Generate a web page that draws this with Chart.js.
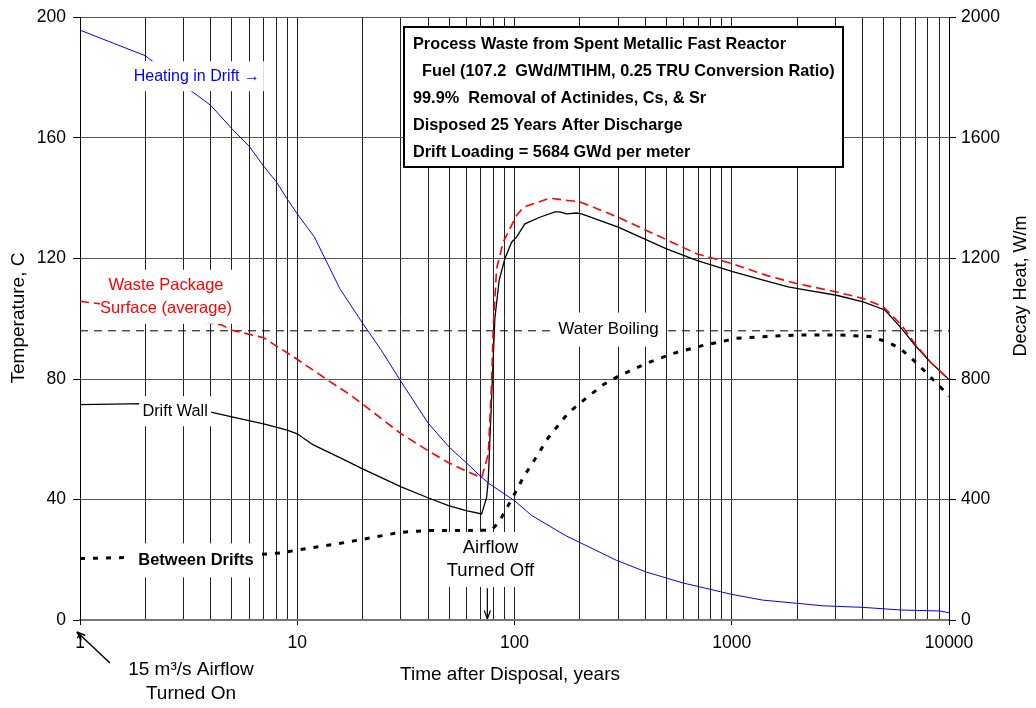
<!DOCTYPE html>
<html>
<head>
<meta charset="utf-8">
<script src="https://cdn.jsdelivr.net/npm/chart.js@4.4.1/dist/chart.umd.min.js"></script>
<style>
  html, body { margin: 0; padding: 0; background: #fff; }
  #wrap { width: 1036px; height: 708px; }
</style>
</head>
<body>
<div id="wrap"><canvas id="chart"></canvas></div>
<script>
const FONT = '"Liberation Sans", Arial, sans-serif';

// Heating in drift (W/m, right axis)
const heatYears = [1, 2, 3, 4, 5, 6, 7, 8, 9, 10, 12, 13.4, 15.7, 20, 24.3, 30, 40, 50, 60, 71, 77, 100, 120, 171, 295, 405, 596, 713, 1000, 1390, 2170, 2630, 4010, 6040, 9070, 10000];
const heatWm = [1958, 1873, 1775, 1708, 1631, 1573, 1507, 1455, 1397, 1348, 1271, 1201, 1100, 985, 897, 792, 654, 574, 522, 472, 451, 396, 347, 281, 198, 159, 123, 110, 85, 66, 53, 47, 42, 33, 30, 24];

// Waste package surface (average), C
const wpYears = [1, 2, 3, 4.5, 5, 7, 8, 9.5, 14.1, 17.5, 20.1, 30.1, 40.2, 49.7, 59.9, 70.6, 75.7, 78.5, 79.8, 82.7, 88.7, 102, 110, 145, 200, 300, 405, 689, 1000, 1446, 1987, 3034, 4026, 4979, 6045, 6960, 8162, 10000];
const wpTemp = [105.8, 103, 100, 97.9, 96.2, 93.7, 91.0, 87.6, 79.2, 74.8, 71.5, 61.8, 56.1, 52.2, 49.5, 47.2, 55, 79.2, 96.8, 116.6, 125.4, 134.2, 137.0, 140.0, 138.8, 133.7, 129.3, 121.6, 118.3, 114.4, 111.7, 108.9, 106.7, 104.0, 97.9, 91.8, 85.8, 79.8];

// Drift wall, C
const dwYears = [1, 2, 4, 5, 7, 9, 10, 11.8, 15.7, 20.1, 30.1, 40.2, 49.7, 59.9, 70.6, 74.4, 75.7, 81.2, 85, 90.3, 97, 102.2, 111.6, 130.9, 153.4, 161.8, 173.7, 193, 203.6, 300, 501, 689, 1000, 1396, 1818, 2208, 3034, 4026, 5069, 6045, 6960, 8162, 10000];
const dwTemp = [71.5, 71.8, 69.0, 67.4, 65.1, 63.0, 61.8, 58.2, 53.9, 50.1, 44.2, 40.5, 38.0, 36.3, 35.2, 40.7, 46.2, 100.1, 112.8, 119.9, 125.4, 127.1, 131.5, 133.7, 135.5, 135.5, 134.8, 135.1, 134.8, 130.4, 123.2, 119.4, 115.7, 112.8, 110.6, 109.5, 107.8, 105.6, 102.9, 96.8, 91.3, 85.8, 79.8];

// Between drifts, C
const bdYears = [1, 6.9, 8.5, 9.8, 17.5, 29.7, 40, 60, 78.5, 85.6, 100, 109.7, 120, 143, 176.6, 200, 256, 300, 405, 538, 752, 898, 1052, 1446, 1987, 3142, 4324, 5162, 5939, 6718, 7606, 8602, 9735, 10000];
const bdTemp = [20.4, 21.8, 22.3, 23.1, 26.0, 29.1, 29.7, 29.7, 29.8, 33.0, 41.8, 47.3, 51.7, 60.5, 68.7, 72.0, 78.1, 80.9, 85.2, 88.5, 91.3, 92.4, 93.5, 94.1, 94.6, 94.6, 94.1, 92.4, 90.2, 86.9, 83.1, 79.2, 75.3, 74.3];

// Water boiling reference line, C
const boilYears = [1, 10000];
const boilTemp = [96, 96];

const airflowOffYear = 75;
const xMajorTicks = [1, 10, 100, 1000, 10000];
const xGridYears = [];
for (const d of [1, 10, 100, 1000]) for (let k = 1; k < 10; k++) xGridYears.push(k * d);
xGridYears.push(10000);

const titleLines = [
  'Process Waste from Spent Metallic Fast Reactor',
  '  Fuel (107.2  GWd/MTIHM, 0.25 TRU Conversion Ratio)',
  '99.9%  Removal of Actinides, Cs, & Sr',
  'Disposed 25 Years After Discharge',
  'Drift Loading = 5684 GWd per meter',
];

const pts = (xs, ys) => xs.map((x, i) => ({ x, y: ys[i] }));

// in-plot labels, anchored in data units (years, C)
const labels = [
  { lines: ['Heating in Drift \u2192'], t: 3.45, c: 180.5, w: 134, h: 30, color: '#0000ff', font: '16px ' + FONT },
  { lines: ['Waste Package', 'Surface (average)'], t: 2.49, c: 107.3, w: 132, h: 54, color: '#ff0000', font: '16.5px ' + FONT },
  { lines: ['Drift Wall'], t: 2.74, c: 69.3, w: 72, h: 30, color: '#000', font: '16.3px ' + FONT },
  { lines: ['Between Drifts'], t: 3.42, c: 19.8, w: 132, h: 34, color: '#000', font: 'bold 16.5px ' + FONT },
  { lines: ['Water Boiling'], t: 271, c: 96.4, w: 112, h: 34, color: '#000', font: '17px ' + FONT },
  { lines: ['Airflow', 'Turned Off'], t: 77.5, c: 20.1, w: 90, h: 55, color: '#000', font: '18.5px ' + FONT },
];

function arrow(ctx, x0, y0, x1, y1) {
  const a = Math.atan2(y1 - y0, x1 - x0);
  ctx.beginPath();
  ctx.moveTo(x0, y0);
  ctx.lineTo(x1, y1);
  ctx.stroke();
  ctx.beginPath();
  ctx.moveTo(x1, y1);
  ctx.lineTo(x1 - 9 * Math.cos(a - 0.35), y1 - 9 * Math.sin(a - 0.35));
  ctx.moveTo(x1, y1);
  ctx.lineTo(x1 - 9 * Math.cos(a + 0.35), y1 - 9 * Math.sin(a + 0.35));
  ctx.stroke();
}

const notes = {
  id: 'notes',
  afterDraw(chart) {
    const { ctx, scales } = chart;
    const xs = scales.x, ys = scales.y;
    ctx.save();
    ctx.textAlign = 'center';
    ctx.textBaseline = 'middle';

    labels.forEach(l => {
      const cx = xs.getPixelForValue(l.t);
      const cy = ys.getPixelForValue(l.c);
      ctx.fillStyle = '#fff';
      ctx.fillRect(cx - l.w / 2, cy - l.h / 2, l.w, l.h);
      ctx.fillStyle = l.color;
      ctx.font = l.font;
      const lh = l.lines.length > 1 ? 23 : 0;
      l.lines.forEach((s, i) => ctx.fillText(s, cx, cy + (i - (l.lines.length - 1) / 2) * lh));
    });

    // airflow turned off arrow
    ctx.strokeStyle = '#000';
    ctx.lineWidth = 1.2;
    const ax = xs.getPixelForValue(airflowOffYear);
    arrow(ctx, ax, ys.getPixelForValue(10.5), ax, ys.bottom - 1);

    // title box
    ctx.fillStyle = '#fff';
    ctx.fillRect(404, 27, 439, 140);
    ctx.lineWidth = 2;
    ctx.strokeStyle = '#000';
    ctx.strokeRect(404, 27, 439, 140);
    ctx.textAlign = 'left';
    ctx.fillStyle = '#000';
    ctx.font = 'bold 16.3px ' + FONT;
    titleLines.forEach((s, i) => ctx.fillText(s, 413, 45 + i * 26.8));

    // axis titles
    ctx.textAlign = 'center';
    ctx.font = '19px ' + FONT;
    ctx.fillText('Time after Disposal, years', 510, 675);
    ctx.save();
    ctx.translate(19, 318);
    ctx.rotate(-Math.PI / 2);
    ctx.fillText('Temperature, C', 0, 0);
    ctx.restore();
    ctx.save();
    ctx.translate(1021, 286);
    ctx.rotate(-Math.PI / 2);
    ctx.font = '18px ' + FONT;
    ctx.fillText('Decay Heat, W/m', 0, 0);
    ctx.restore();

    // airflow turned on note
    ctx.font = '19px ' + FONT;
    ctx.fillText('15 m\u00b3/s Airflow', 191, 670);
    ctx.fillText('Turned On', 191, 694);
    ctx.lineWidth = 1.5;
    arrow(ctx, 110, 663, 77, 632);
    ctx.restore();
  }
};

Chart.defaults.font.family = FONT;
Chart.defaults.color = '#000';

new Chart(document.getElementById('chart'), {
  type: 'line',
  data: {
    datasets: [
      { label: 'Heating in Drift', data: pts(heatYears, heatWm), yAxisID: 'y2', borderColor: '#0000ff', borderWidth: 1 },
      { label: 'Waste Package Surface (average)', data: pts(wpYears, wpTemp), yAxisID: 'y', borderColor: '#ff0000', borderWidth: 1.6, borderDash: [9, 5] },
      { label: 'Drift Wall', data: pts(dwYears, dwTemp), yAxisID: 'y', borderColor: '#000', borderWidth: 1.3 },
      { label: 'Between Drifts', data: pts(bdYears, bdTemp), yAxisID: 'y', borderColor: '#000', borderWidth: 3, borderDash: [5, 8] },
      { label: 'Water Boiling', data: pts(boilYears, boilTemp), yAxisID: 'y', borderColor: '#000', borderWidth: 1, borderDash: [8, 6] },
    ],
  },
  options: {
    responsive: true,
    maintainAspectRatio: false,
    animation: false,
    devicePixelRatio: 1,
    layout: { padding: { top: 14, left: 0, right: 0, bottom: 0 } },
    elements: { point: { radius: 0 }, line: { tension: 0, fill: false } },
    plugins: { legend: { display: false }, tooltip: { enabled: false } },
    scales: {
      x: {
        type: 'logarithmic',
        min: 1,
        max: 10000,
        afterFit: s => { s.height = 88; },
        afterBuildTicks: s => { s.ticks = xGridYears.map(v => ({ value: v })); },
        ticks: {
          autoSkip: false,
          maxRotation: 0,
          padding: 8,
          font: { size: 17.5 },
          callback: v => xMajorTicks.includes(v) ? String(v) : '',
        },
        grid: {
          color: '#222',
          lineWidth: 1,
          tickLength: 5,
          tickColor: c => (c.tick && xMajorTicks.includes(c.tick.value)) ? '#000' : 'rgba(0,0,0,0)',
        },
        border: { color: '#777', width: 2 },
      },
      y: {
        position: 'left',
        min: 0,
        max: 200,
        afterFit: s => { s.width = 80; },
        ticks: { stepSize: 40, padding: 7, font: { size: 17.5 }, callback: v => String(v) },
        grid: { color: '#555', lineWidth: 1, tickLength: 7, tickColor: '#000' },
        border: { color: '#000', width: 1 },
      },
      y2: {
        position: 'right',
        min: 0,
        max: 2000,
        afterFit: s => { s.width = 87; },
        ticks: { stepSize: 400, padding: 5, font: { size: 17.5 }, callback: v => String(v) },
        grid: { drawOnChartArea: false, tickLength: 7, tickColor: '#000' },
        border: { color: '#000', width: 1 },
      },
    },
  },
  plugins: [notes],
});
</script>
</body>
</html>
